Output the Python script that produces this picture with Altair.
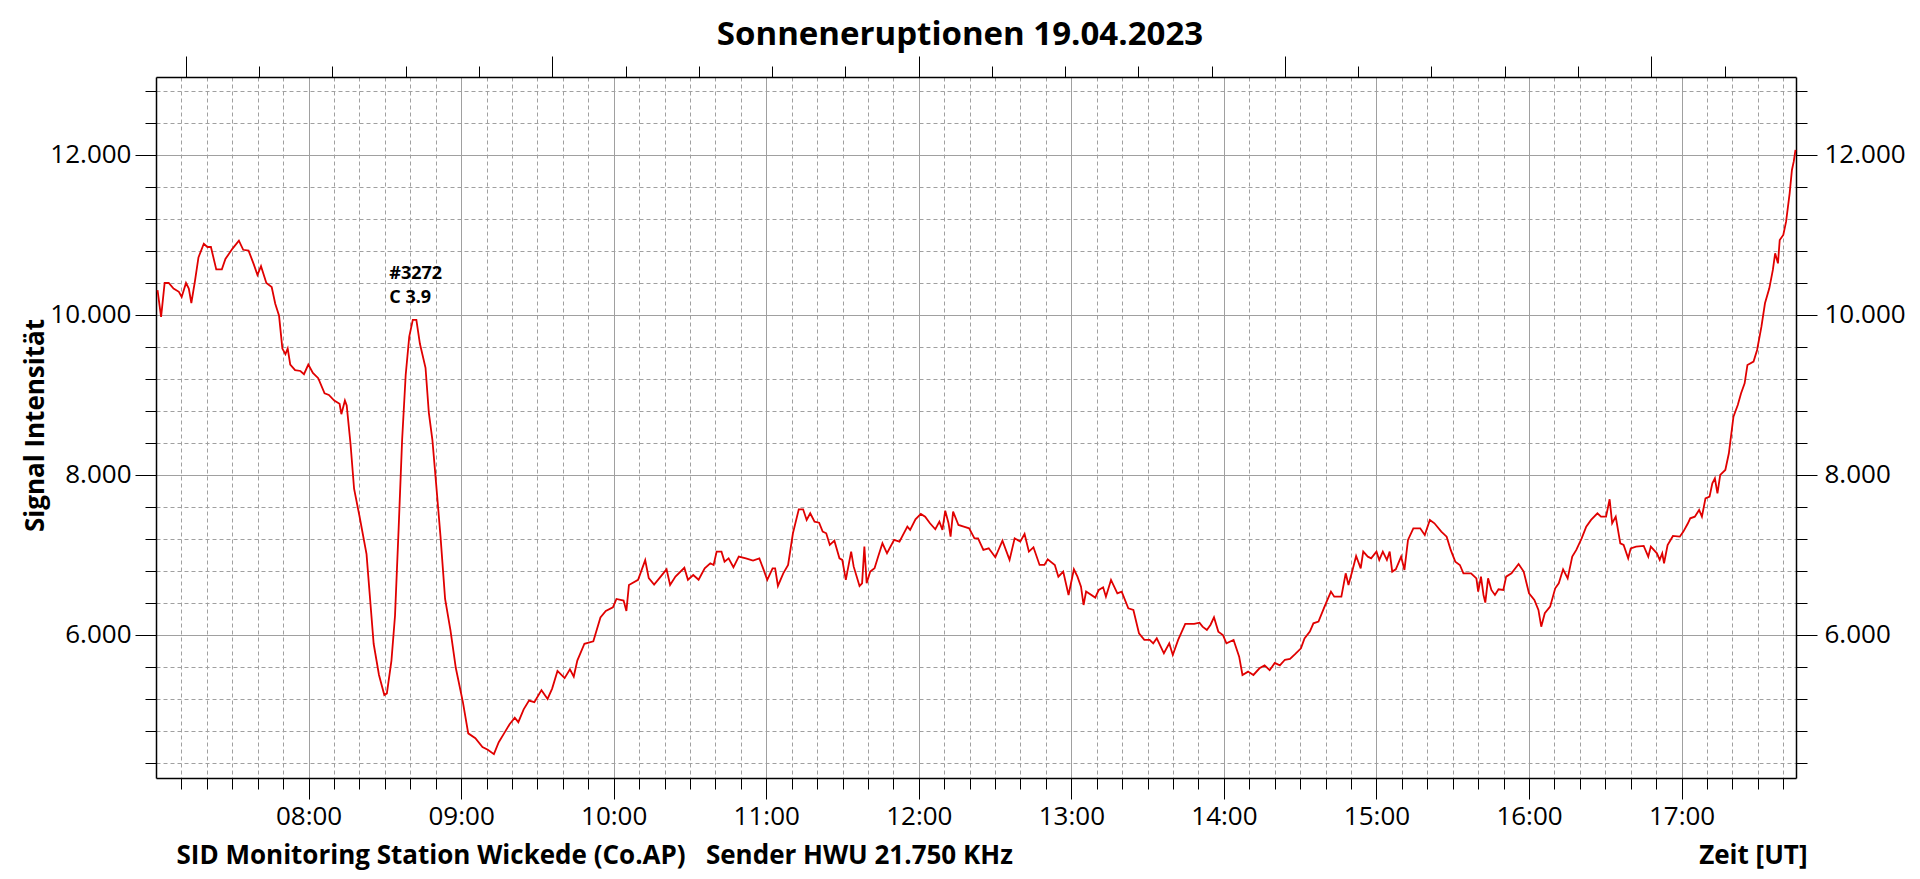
import altair as alt
import pandas as pd

# ---------------- data (minutes since 00:00 UT, signal intensity) ----------------
seg_a_min = [420.6, 422, 423.4, 425, 426.9, 429, 430.1, 431.8, 432.9, 433.9,
             435.3, 436.7, 438.8, 440.2, 441.6, 443.7, 445.9, 447.3, 450.1, 452.6,
             454.3, 456.4, 458.5, 459.9, 461.3, 463.4, 465.5, 466.9, 468.4, 469.7,
             470.9, 471.8, 472.8, 474.7, 476.8, 478.2, 479.9, 481.7, 483.8, 486.3,
             488, 490.1, 492.2, 492.9, 494.3, 495, 496.5, 497.9, 500, 502.8,
             504.2, 505.6, 507.7, 509.8, 510.8, 512.6, 514, 515.4, 516.8, 518.2,
             519.6, 521, 522.4, 523.8, 526, 527.3, 528.7, 530.2, 531.9, 533.7,
             535.8, 537.9, 540.7, 542.8, 545.6, 548.4, 550.5, 552.9, 554.8, 556.9,
             559, 561.1, 562.5, 564.6, 566.7, 568.8, 571.6, 574, 575.8, 577.9,
             580.7, 582.8, 584.3, 585.7, 588.5, 592, 594.8, 596.9, 599.7, 601.1,
             603.9, 605, 606, 609.6, 612.4, 613.8, 615.9, 618, 620.8, 622.2,
             624.3, 627.8, 629.2, 631.3, 633.4]
seg_a_val = [10310, 9975, 10400, 10400, 10330, 10290, 10225, 10400, 10330, 10150,
             10420, 10720, 10890, 10850, 10850, 10570, 10570, 10700, 10830, 10930,
             10815, 10805, 10630, 10500, 10610, 10400, 10350, 10140, 9990, 9580,
             9510, 9580, 9380, 9310, 9300, 9260, 9380, 9275, 9210, 9020,
             9000, 8930, 8890, 8760, 8930, 8870, 8390, 7830, 7490, 7010,
             6450, 5890, 5500, 5250, 5270, 5680, 6240, 7310, 8440, 9250,
             9730, 9940, 9940, 9640, 9340, 8780, 8440, 7880, 7230, 6450,
             6060, 5590, 5160, 4770, 4710, 4600, 4565, 4510, 4660, 4770,
             4880, 4965, 4910, 5070, 5180, 5160, 5310, 5200, 5330, 5550,
             5460, 5570, 5480, 5680, 5890, 5920, 6220, 6300, 6345, 6450,
             6430, 6300, 6625, 6690, 6935, 6710, 6630, 6710, 6820, 6625,
             6730, 6840, 6690, 6750, 6690]

seg_b_min = [635.8, 638, 639.3, 640.5, 642.4, 643.6, 645.2, 647.1, 649.2, 652,
             654.8, 657.3, 659, 660.4, 662.5, 663.5, 664.6, 666.7, 668.6, 670.5,
             672.8, 674.5, 675.9, 677.3, 679, 680.8, 682.2, 683.6, 685, 686.8,
             688.8, 689.9, 691.3, 693.4, 694.4, 696.7, 697.7, 698.6, 699.5, 700.9,
             702.6, 704, 705.7, 707.5, 710.3, 712.4, 715.5, 716.6, 718.7, 720.8,
             722.5, 724.4, 726.5, 728.1, 729.3, 730.4, 731.7, 732.5, 733.5, 735.6,
             737.7, 739.8, 741.9, 743.3, 745.4, 747.5, 750.1, 752.9, 755.7, 757.7,
             759.9, 761.6, 763.3, 765.1, 767.5, 769.4, 770.7, 773.5, 774.9, 776.8,
             778.9, 781, 782.4, 783.8, 784.8, 785.8, 789.4, 790.8, 792.5, 793.6,
             795.6, 798.1, 799.8, 802.4, 804.4, 806.6, 808.7, 810.8, 812.2, 813.6,
             816.4, 818.5, 819.9, 822, 824.8, 828.3, 830.4, 831.6, 833.3, 834.7,
             836.1, 837.8, 839.6, 841, 843.8, 846, 847.3, 849.5, 851.6, 854,
             856, 858, 860, 862, 864, 866, 868]
seg_b_val = [6833, 6896, 6875, 7042, 7042, 6917, 6958, 6846, 6979, 6958,
             6929, 6958, 6813, 6688, 6833, 6833, 6613, 6771, 6875, 7271,
             7571, 7571, 7438, 7521, 7417, 7404, 7292, 7271, 7125, 7179,
             6958, 6938, 6688, 7042, 6854, 6613, 6646, 7104, 6646, 6792,
             6833, 6979, 7146, 7021, 7188, 7167, 7354, 7313, 7446, 7513,
             7479, 7396, 7321, 7417, 7313, 7554, 7396, 7229, 7542, 7375,
             7354, 7333, 7208, 7208, 7063, 7083, 6971, 7179, 6938, 7208,
             7167, 7263, 7042, 7096, 6875, 6875, 6946, 6875, 6729, 6792,
             6500, 6821, 6729, 6604, 6375, 6542, 6467, 6563, 6596, 6479,
             6688, 6521, 6542, 6333, 6313, 6021, 5938, 5938, 5896, 5958,
             5771, 5896, 5750, 5938, 6138, 6138, 6154, 6104, 6063, 6125,
             6221, 6042, 6000, 5896, 5938, 5729, 5500, 5542, 5500, 5583,
             5620, 5560, 5650, 5620, 5690, 5700, 5760]

seg_c_min = [870.3, 871.7, 873.8, 875.2, 877.2, 879.3, 880.7, 882.1, 883.4, 886.2,
             887.9, 889, 890.6, 892, 893.8, 894.8, 896.6, 897.9, 900, 901.1,
             902.5, 904.1, 905.2, 906.2, 907.6, 909.7, 911, 912.4, 914.5, 917.2,
             919, 921, 922.8, 925.5, 927.6, 929.2, 931, 932.8, 934.2, 937.2,
             939.3, 940, 941.1, 942.1, 942.8, 943.9, 945.2, 946.6, 948, 949.9,
             951, 953.1, 955.9, 957.9, 960, 962.1, 963.7, 964.8, 966.2, 968.3,
             970.3, 971.7, 973.4, 975.2, 977, 978.6, 980.7, 982.5, 984.4, 986.9,
             988.3, 990.3, 991.7, 992.7, 994.1, 995.9, 997.2, 999, 1000, 1002.1,
             1005.1, 1006.9, 1007.9, 1010.3, 1011.4, 1012.4, 1013.1, 1014.5, 1016.6, 1019.3,
             1020.7, 1022.5, 1023.4, 1025.2, 1026.9, 1028, 1029.4, 1031, 1032.1, 1033.1,
             1034.1, 1035.2, 1037.2, 1038.6, 1040.4, 1042.1, 1043.4, 1044.8, 1045.9, 1048.3,
             1049.7, 1051.4, 1052.8, 1054.5, 1055.9, 1056.8, 1057.9, 1058.6, 1060, 1061.1,
             1062.5, 1063.4, 1064.1, 1064.8]
seg_c_val = [5833, 5958, 6042, 6146, 6167, 6333, 6438, 6542, 6479, 6479,
             6771, 6625, 6813, 6988, 6833, 7042, 6979, 6958, 7042, 6938,
             7042, 6938, 7042, 6792, 6821, 6979, 6813, 7188, 7333, 7333,
             7250, 7438, 7396, 7292, 7229, 7063, 6917, 6875, 6771, 6771,
             6708, 6542, 6729, 6500, 6404, 6708, 6563, 6500, 6571, 6563,
             6729, 6771, 6888, 6792, 6521, 6438, 6313, 6104, 6271, 6354,
             6583, 6646, 6821, 6708, 6979, 7063, 7208, 7354, 7438, 7521,
             7479, 7479, 7696, 7396, 7479, 7146, 7125, 6958, 7083, 7104,
             7113, 6979, 7104, 7021, 6938, 7021, 6896, 7125, 7238, 7229,
             7292, 7396, 7458, 7479, 7563, 7479, 7708, 7729, 7896, 7958,
             7771, 8000, 8063, 8271, 8729, 8875, 9021, 9146, 9375, 9417,
             9563, 9854, 10146, 10333, 10563, 10771, 10646, 10938, 11000, 11167,
             11521, 11813, 11917, 12063]

# flare annotation
ann_min = [511.75, 511.75]
ann_val = [10510, 10216]
ann_text = ["#3272", "C 3.9"]

# axes
x_domain = [420, 1065]          # 07:00 .. 17:45 UT
y_domain = [4212, 12975]
x_ticks = list(range(430, 1061, 10))
y_ticks = list(range(4400, 12801, 400))
top_domain = [-0.408, 21.975]
top_ticks = list(range(0, 22))

TITLE = "Sonneneruptionen 19.04.2023"
Y_TITLE = "Signal Intensität"
FOOT_LEFT = "SID Monitoring Station Wickede (Co.AP)\u00a0\u00a0\u00a0Sender HWU 21.750 KHz"
FOOT_RIGHT = "Zeit [UT]"

FONT = "Open Sans"
GRID = "#a0a0a0"
RED = "#e00000"

df = pd.DataFrame({"minute": seg_a_min + seg_b_min + seg_c_min,
                   "signal": seg_a_val + seg_b_val + seg_c_val})
ann = pd.DataFrame({"minute": ann_min, "signal": ann_val, "label": ann_text})

x_axis = alt.Axis(
    orient="bottom", values=x_ticks,
    labelExpr="datum.value % 60 === 0 ? ((datum.value < 600 ? '0' : '') + floor(datum.value / 60) + ':00') : ''",
    labelOverlap=False, labelFlush=False, labelBound=False,
    tickSize={"condition": {"test": "datum.value % 60 === 0", "value": 21}, "value": 11},
    tickColor="black", tickWidth=1,
    domainColor="black", domainWidth=1.5,
    grid=True, gridColor=GRID, gridWidth=1,
    gridDash={"condition": {"test": "datum.value % 60 === 0", "value": []}, "value": [4, 3]},
    labelFont=FONT, labelFontSize=26, labelColor="black", labelPadding=4,
    title=FOOT_LEFT, titleFont=FONT, titleFontSize=26, titleFontWeight="bold",
    titleColor="black", titleAnchor="start", titleAlign="left",
    titleBaseline="alphabetic", titleX=20, titleY=85,
)

y_label_expr = "datum.value % 2000 === 0 ? replace(format(datum.value, ','), ',', '.') : ''"
y_tick_size = {"condition": {"test": "datum.value % 2000 === 0", "value": 21}, "value": 11}

y_axis = alt.Axis(
    orient="left", values=y_ticks, labelExpr=y_label_expr,
    labelOverlap=False, labelFlush=False, labelBound=False,
    tickSize=y_tick_size, tickColor="black", tickWidth=1,
    domainColor="black", domainWidth=1.5,
    grid=True, gridColor=GRID, gridWidth=1,
    gridDash={"condition": {"test": "datum.value % 2000 === 0", "value": []}, "value": [4, 3]},
    labelFont=FONT, labelFontSize=26, labelColor="black", labelPadding=4,
    title=Y_TITLE, titleFont=FONT, titleFontSize=26, titleFontWeight="bold",
    titleColor="black", titleAngle=270, titleAlign="center", titleBaseline="middle",
    titleX=-121, titleY=348,
)

x_enc = alt.X("minute:Q", scale=alt.Scale(domain=x_domain, nice=False, zero=False), axis=x_axis)
y_enc = alt.Y("signal:Q", scale=alt.Scale(domain=y_domain, nice=False, zero=False), axis=y_axis)

line = alt.Chart(df).mark_line(color=RED, strokeWidth=1.8).encode(x=x_enc, y=y_enc)

labels = alt.Chart(ann).mark_text(
    align="left", baseline="middle", font=FONT, fontSize=18, fontWeight="bold", color="black"
).encode(x=x_enc, y=y_enc, text="label:N")

main = alt.layer(line, labels)

# top axis (secondary scale, ticks only) -- also carries the "Zeit [UT]" caption
top_df = pd.DataFrame({"u": top_ticks})
top = alt.Chart(top_df).mark_point(opacity=0).encode(
    x=alt.X("u:Q", scale=alt.Scale(domain=top_domain, nice=False, zero=False),
            axis=alt.Axis(orient="top", values=top_ticks, labels=False, grid=False,
                          tickSize={"condition": {"test": "datum.value % 5 === 0", "value": 21}, "value": 11},
                          tickColor="black", tickWidth=1, domainColor="black", domainWidth=1.5,
                          title=FOOT_RIGHT, titleFont=FONT, titleFontSize=26, titleFontWeight="bold",
                          titleColor="black", titleAlign="right", titleAnchor="end",
                          titleBaseline="alphabetic", titleX=1651, titleY=786)),
)

# right axis (mirror of the left one)
right_df = pd.DataFrame({"v": y_ticks})
right = alt.Chart(right_df).mark_point(opacity=0).encode(
    y=alt.Y("v:Q", scale=alt.Scale(domain=y_domain, nice=False, zero=False),
            axis=alt.Axis(orient="right", values=y_ticks, labelExpr=y_label_expr,
                          labelOverlap=False, labelFlush=False, labelBound=False,
                          tickSize=y_tick_size, tickColor="black", tickWidth=1,
                          domainColor="black", domainWidth=1.5, grid=False,
                          labelFont=FONT, labelFontSize=26, labelColor="black", labelPadding=7,
                          title=None)),
)

chart = alt.layer(main, top, right).resolve_scale(
    x="independent", y="independent"
).resolve_axis(
    x="independent", y="independent"
).properties(
    width=1640, height=701,
    title=alt.TitleParams(TITLE, font=FONT, fontSize=33, fontWeight="bold", color="black",
                          anchor="middle", dx=-16, offset=4),
    autosize=alt.AutoSizeParams(type="none"),
    padding={"left": 148, "top": 69, "right": 116, "bottom": 98},
    background="white",
).configure_view(stroke=None)

chart.save("out.html", embed_options={"renderer": "svg", "actions": False})
